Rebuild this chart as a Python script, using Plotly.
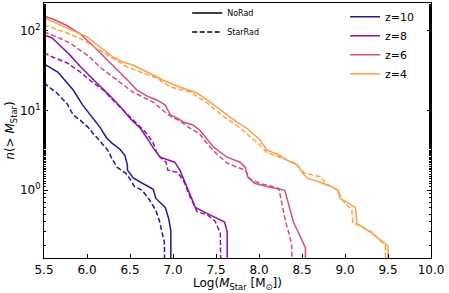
import plotly.graph_objects as go

# ---- data (log stellar mass, cumulative number n(>M)) ----
z10_norad_x = [5.50, 5.66, 5.74, 5.84, 5.95, 6.06, 6.15, 6.23, 6.29, 6.38, 6.44, 6.47, 6.47, 6.54, 6.65, 6.77, 6.80, 6.91, 6.95, 6.975, 6.975]
z10_norad_n = [38.5, 30.5, 24.2, 18.1, 11.7, 8.3, 6.2, 4.5, 3.9, 3.3, 2.75, 2.06, 1.79, 1.42, 1.22, 1.03, 0.79, 0.61, 0.44, 0.31, 0.01]
z10_starrad_x = [5.50, 5.57, 5.65, 5.77, 5.84, 5.92, 6.01, 6.09, 6.17, 6.24, 6.29, 6.35, 6.45, 6.51, 6.55, 6.64, 6.73, 6.80, 6.84, 6.87, 6.90, 6.91]
z10_starrad_n = [22.2, 19.2, 16.6, 12.1, 8.8, 7.6, 6.2, 4.9, 3.9, 3.2, 2.5, 1.95, 1.64, 1.34, 1.12, 1.0, 0.75, 0.56, 0.42, 0.30, 0.22, 0.01]

z8_norad_x = [5.50, 5.59, 5.69, 5.80, 5.92, 6.03, 6.15, 6.27, 6.38, 6.50, 6.62, 6.70, 6.77, 6.85, 6.93, 7.02, 7.08, 7.12, 7.16, 7.20, 7.26, 7.40, 7.60, 7.63, 7.63]
z8_norad_n = [89, 82, 65, 50, 36, 27, 20.3, 15.2, 11.4, 8.0, 6.0, 4.5, 3.4, 2.6, 2.45, 2.25, 1.79, 1.42, 1.12, 0.87, 0.61, 0.51, 0.40, 0.30, 0.01]
z8_starrad_x = [5.50, 5.60, 5.77, 5.92, 6.03, 6.19, 6.30, 6.42, 6.53, 6.62, 6.70, 6.77, 6.81, 6.85, 6.92, 6.94, 7.05, 7.12, 7.20, 7.28, 7.40, 7.49, 7.55, 7.57]
z8_starrad_n = [53, 47, 39.6, 30.5, 24.2, 18.1, 13.6, 10.1, 7.6, 6.2, 5.1, 3.9, 3.0, 2.6, 2.25, 1.79, 1.68, 1.34, 0.82, 0.54, 0.49, 0.41, 0.29, 0.01]

z6_norad_x = [5.50, 5.63, 5.77, 5.92, 6.07, 6.19, 6.35, 6.47, 6.58, 6.70, 6.81, 6.91, 6.97, 7.05, 7.12, 7.23, 7.31, 7.40, 7.47, 7.55, 7.63, 7.78, 7.84, 7.87, 7.95, 8.13, 8.30, 8.40, 8.48, 8.54, 8.54]
z6_norad_n = [154, 137, 116, 92, 65, 48.5, 32.3, 24.2, 18.1, 15.2, 13.6, 11.7, 8.8, 8.05, 7.2, 6.6, 5.7, 4.3, 3.5, 3.0, 2.6, 2.25, 1.95, 1.46, 1.22, 1.09, 1.0, 0.40, 0.26, 0.19, 0.01]
z6_starrad_x = [5.50, 5.65, 5.80, 5.92, 6.03, 6.15, 6.27, 6.38, 6.53, 6.65, 6.77, 6.88, 6.97, 7.08, 7.20, 7.31, 7.40, 7.51, 7.63, 7.74, 7.84, 7.90, 8.01, 8.23, 8.27, 8.31, 8.36, 8.38, 8.39]
z6_starrad_n = [97, 84, 70.7, 57.7, 47.1, 35.2, 28, 22.2, 17.1, 14.8, 12.8, 10.1, 8.5, 7.4, 6.0, 5.1, 3.8, 2.84, 2.19, 1.95, 1.79, 1.37, 1.22, 1.06, 0.65, 0.40, 0.26, 0.20, 0.01]

z4_norad_x = [5.50, 5.77, 6.00, 6.15, 6.30, 6.42, 6.53, 6.70, 6.88, 7.08, 7.28, 7.43, 7.58, 7.74, 7.86, 7.92, 8.01, 8.09, 8.24, 8.33, 8.45, 8.50, 8.56, 8.71, 8.86, 8.92, 8.94, 9.02, 9.12, 9.14, 9.31, 9.50, 9.50]
z4_norad_n = [146, 109, 84, 63, 47.1, 40.7, 37.3, 30.5, 24.2, 19.8, 16.6, 12.8, 9.6, 7.2, 6.0, 5.2, 4.3, 3.2, 2.75, 2.38, 2.06, 1.68, 1.42, 1.26, 1.09, 1.0, 0.79, 0.71, 0.61, 0.385, 0.29, 0.20, 0.01]
z4_starrad_x = [5.50, 5.77, 5.95, 6.15, 6.30, 6.47, 6.62, 6.81, 6.97, 7.20, 7.40, 7.58, 7.70, 7.81, 7.90, 8.01, 8.09, 8.33, 8.42, 8.53, 8.73, 8.77, 8.92, 8.97, 9.08, 9.09, 9.31, 9.47, 9.47]
z4_starrad_n = [119, 94, 77, 57.7, 45.7, 35.2, 30.5, 25.6, 19.8, 17.1, 12.4, 8.5, 7.0, 5.7, 4.65, 3.7, 3.0, 2.38, 2.19, 1.64, 1.46, 1.22, 1.0, 0.75, 0.56, 0.395, 0.30, 0.20, 0.01]

redshift_labels = ["z=10", "z=8", "z=6", "z=4"]
colors = ["#1c1c94", "#8e12a8", "#d0517a", "#fca14a"]
x_ticks = [5.5, 6.0, 6.5, 7.0, 7.5, 8.0, 8.5, 9.0, 9.5, 10.0]
y_ticks = [1, 10, 100]
y_ticktext = ["10<sup>0</sup>", "10<sup>1</sup>", "10<sup>2</sup>"]

norad = [(z10_norad_x, z10_norad_n), (z8_norad_x, z8_norad_n), (z6_norad_x, z6_norad_n), (z4_norad_x, z4_norad_n)]
starrad = [(z10_starrad_x, z10_starrad_n), (z8_starrad_x, z8_starrad_n), (z6_starrad_x, z6_starrad_n), (z4_starrad_x, z4_starrad_n)]

FONT = "DejaVu Sans"
DASH = "5px,2.5px"

fig = go.Figure()
for (x, n), lab, c in zip(norad, redshift_labels, colors):
    fig.add_trace(go.Scatter(x=x, y=n, mode="lines", name=lab, legend="legend2",
                             line=dict(color=c, width=1.5)))
for (x, n), lab, c in zip(starrad, redshift_labels, colors):
    fig.add_trace(go.Scatter(x=x, y=n, mode="lines", name=lab, showlegend=False,
                             line=dict(color=c, width=1.5, dash=DASH)))

# line-style legend entries
fig.add_trace(go.Scatter(x=[None], y=[None], mode="lines", name="NoRad", legend="legend",
                         line=dict(color="black", width=1.5)))
fig.add_trace(go.Scatter(x=[None], y=[None], mode="lines", name="StarRad", legend="legend",
                         line=dict(color="black", width=1.5, dash=DASH)))

fig.update_layout(
    width=449, height=293,
    margin=dict(l=44, r=18, t=3, b=35, pad=0, autoexpand=False),
    paper_bgcolor="white", plot_bgcolor="white",
    font=dict(family=FONT, color="black", size=12),
    legend=dict(x=0.37, y=1.018, xanchor="left", yanchor="top", bgcolor="rgba(0,0,0,0)",
                font=dict(size=8, family=FONT)),
    legend2=dict(x=0.778, y=1.003, xanchor="left", yanchor="top", bgcolor="rgba(0,0,0,0)",
                 font=dict(size=11, family=FONT)),
)
fig.update_xaxes(
    range=[5.5, 10.0], tickvals=x_ticks, ticktext=[f"{v:.1f}" for v in x_ticks],
    ticks="inside", ticklen=4, tickcolor="black", showline=True, linecolor="black", linewidth=1.2,
    mirror=True, showgrid=False, zeroline=False, tickfont=dict(size=12), automargin=False,
    title=dict(text="Log(<i>M</i><sub>Star</sub> [M<sub>⊙</sub>])", font=dict(size=12), standoff=0),
)
fig.update_yaxes(
    type="log", range=[-0.85, 2.35], tickvals=y_ticks, ticktext=y_ticktext,
    ticks="inside", ticklen=4, tickcolor="black", showline=True, linecolor="black", linewidth=1.2,
    mirror="ticks", showgrid=False, zeroline=False, tickfont=dict(size=12), automargin=False,
    minor=dict(ticks="inside", ticklen=2, tickcolor="black", showgrid=False),
    title=dict(text="<i>n</i>(&gt; <i>M</i><sub>Star</sub>)", font=dict(size=12), standoff=2),
)

fig.write_html("out.html", config={"displayModeBar": False},
               post_script="document.body.style.margin='0';document.body.style.padding='0';")
